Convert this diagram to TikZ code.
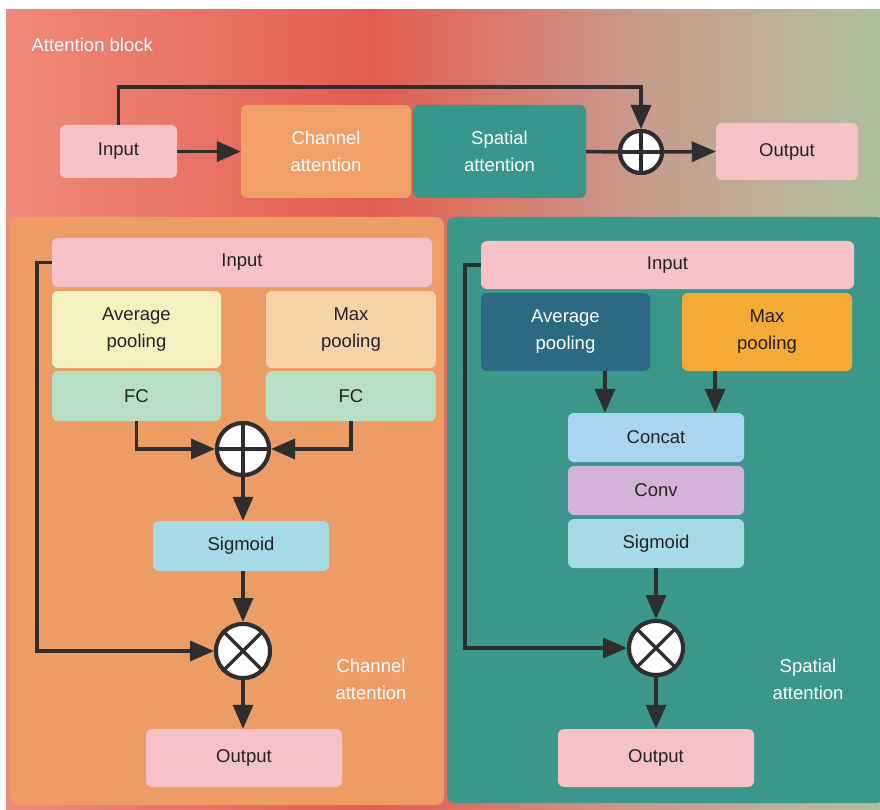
\documentclass[tikz,border=0pt]{standalone}
\usepackage{fontspec}
\setmainfont{Liberation Sans}
\usetikzlibrary{arrows.meta}
\definecolor{bgL}{HTML}{EF8A7A}
\definecolor{bgM}{HTML}{E25D4F}
\definecolor{bgQ}{HTML}{C99A8B}
\definecolor{bgR}{HTML}{AFBFA1}
\definecolor{panO}{HTML}{EE9C66}
\definecolor{panT}{HTML}{3A978A}
\definecolor{pinkc}{HTML}{F7C2C7}
\definecolor{chanc}{HTML}{EF9F68}
\definecolor{spatc}{HTML}{38968A}
\definecolor{avgL}{HTML}{F5F1BF}
\definecolor{maxL}{HTML}{F8D3A8}
\definecolor{fcc}{HTML}{B8DFC5}
\definecolor{sigc}{HTML}{A6DAE4}
\definecolor{avgR}{HTML}{2B6A82}
\definecolor{maxR}{HTML}{F5AA37}
\definecolor{catc}{HTML}{AAD5F0}
\definecolor{convc}{HTML}{D4B4D6}
\definecolor{linec}{HTML}{2E2E2E}
\definecolor{txtc}{HTML}{222222}
\pgfdeclarehorizontalshading{bgsh}{100bp}{color(0bp)=(bgL); color(25bp)=(bgL); color(46bp)=(bgM); color(61bp)=(bgQ); color(75bp)=(bgR); color(100bp)=(bgR)}
\begin{document}
\begin{tikzpicture}[x=1pt,y=-1pt,
  box/.style={rectangle,rounded corners=6pt,inner sep=0pt,align=center,
    font=\fontsize{18.5}{27}\selectfont,text=txtc},
  lbl/.style={align=center,font=\fontsize{18.5}{27}\selectfont,text=white},
  arr/.style={draw=linec,line width=3.5pt,-{Triangle[length=24pt,width=20pt]}},
  ln/.style={draw=linec,line width=3.5pt},
  op/.style={circle,draw=linec,line width=4pt,fill=white,inner sep=0pt}]
\useasboundingbox (0,0) rectangle (880,810);
% background
\fill[white] (0,0) rectangle (880,810);
\shade[shading=bgsh] (6,10) rectangle (880,810);
\fill[panO,rounded corners=8pt] (10,217) rectangle (444,805);
\fill[panT,rounded corners=8pt] (447,217) rectangle (884,803);
\node[lbl,anchor=west] (title) at (28,45) {Attention block};
% top row
\node[box,fill=pinkc,minimum width=117pt,minimum height=53pt] (tin) at (118.5,151.5) {Input};
\node[box,fill=chanc,text=white,minimum width=170pt,minimum height=93pt] (chan) at (326,151.5) {Channel\\attention};
\node[box,fill=spatc,text=white,minimum width=173pt,minimum height=93pt] (spat) at (499.5,151.5) {Spatial\\attention};
\node[op,minimum size=42pt] (tp) at (641,152) {};
\node[box,fill=pinkc,minimum width=142pt,minimum height=57pt] (tout) at (787,151.5) {Output};
\coordinate (tk) at (641,87);
\draw[arr] (tin.north) |- (tk) -- (tp.north);
\draw[arr] (tin.east) -- (chan.west);
\draw[ln] (spat.east) -- (tp.west);
\draw[arr] (tp.east) -- (tout.west);
\node[op,minimum size=42pt] (tp2) at (641,152) {};
\draw[ln] (tp2.north) -- (tp2.south) (tp2.west) -- (tp2.east);
% left panel
\node[box,fill=pinkc,minimum width=380pt,minimum height=49pt] (lin) at (242,262.5) {Input};
\node[box,fill=avgL,minimum width=169pt,minimum height=77pt] (lavg) at (136.5,329.5) {Average\\pooling};
\node[box,fill=maxL,minimum width=170pt,minimum height=77pt] (lmax) at (351,329.5) {Max\\pooling};
\node[box,fill=fcc,minimum width=169pt,minimum height=50pt] (lfc1) at (136.5,396) {FC};
\node[box,fill=fcc,minimum width=170pt,minimum height=50pt] (lfc2) at (351,396) {FC};
\node[op,minimum size=52pt] (lp) at (243,449) {};
\node[box,fill=sigc,minimum width=176pt,minimum height=50pt] (lsig) at (241,546) {Sigmoid};
\node[op,minimum size=54pt] (lt) at (243,651) {};
\node[box,fill=pinkc,minimum width=196pt,minimum height=58pt] (lout) at (244,758) {Output};
\node[lbl] (llab) at (371,679) {Channel\\attention};
\coordinate (lk) at (37,262.5);
\draw[arr] (lfc1.south) |- (lp.west);
\draw[arr] (lfc2.south) |- (lp.east);
\draw[arr] (lp.south) -- (lsig.north -| lp.south);
\draw[arr] (lsig.south -| lt.north) -- (lt.north);
\draw[arr] (lin.west) -- (lk) |- (lt.west);
\draw[arr] (lt.south) -- (lout.north -| lt.south);
\node[op,minimum size=52pt] (lp2) at (243,449) {};
\draw[ln] (lp2.north) -- (lp2.south) (lp2.west) -- (lp2.east);
\node[op,minimum size=54pt] (lt2) at (243,651) {};
\draw[ln] (lt2.45) -- (lt2.225) (lt2.135) -- (lt2.315);
% right panel
\node[box,fill=pinkc,minimum width=373pt,minimum height=48pt] (rin) at (667.5,265) {Input};
\node[box,fill=avgR,text=white,minimum width=169pt,minimum height=78pt] (ravg) at (565.5,332) {Average\\pooling};
\node[box,fill=maxR,minimum width=170pt,minimum height=78pt] (rmax) at (767,332) {Max\\pooling};
\node[box,fill=catc,minimum width=176pt,minimum height=49pt] (rcat) at (656,437.5) {Concat};
\node[box,fill=convc,minimum width=176pt,minimum height=49pt] (rconv) at (656,490.5) {Conv};
\node[box,fill=sigc,minimum width=176pt,minimum height=49pt] (rsig) at (656,543.5) {Sigmoid};
\node[op,minimum size=54pt] (rt) at (656,648) {};
\node[box,fill=pinkc,minimum width=196pt,minimum height=58pt] (rout) at (656,758) {Output};
\node[lbl] (rlab) at (808,679) {Spatial\\attention};
\coordinate (rk) at (465,265);
\draw[arr] ([xshift=39.5pt]ravg.south) -- ([xshift=-51pt]rcat.north);
\draw[arr] ([xshift=-52pt]rmax.south) -- ([xshift=59pt]rcat.north);
\draw[arr] (rsig.south) -- (rt.north);
\draw[arr] (rin.west) -- (rk) |- (rt.west);
\draw[arr] (rt.south) -- (rout.north);
\node[op,minimum size=54pt] (rt2) at (656,648) {};
\draw[ln] (rt2.45) -- (rt2.225) (rt2.135) -- (rt2.315);
\end{tikzpicture}
\end{document}
